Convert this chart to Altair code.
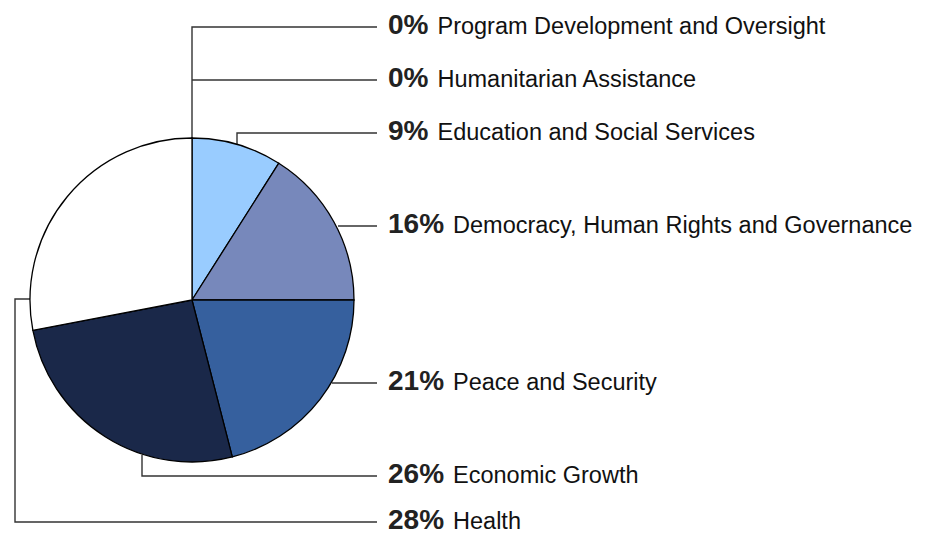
import altair as alt
import pandas as pd

# ---- data ----
categories = [
    "Program Development and Oversight",
    "Humanitarian Assistance",
    "Education and Social Services",
    "Democracy, Human Rights and Governance",
    "Peace and Security",
    "Economic Growth",
    "Health",
]
shares = [0, 0, 9, 16, 21, 26, 28]
colors = ["#ffffff", "#ffffff", "#99ccff", "#7788bb", "#36609e", "#1a2849", "#ffffff"]

# ---- layout (page pixel coordinates) ----
CX, CY, R = 192, 300, 162
LABEL_X = 388
line_end = 377
label_line_y = [27, 80, 133, 226, 383, 476, 522]
# leader polylines: list of (x, y) points per category, ending at the label line
leader_paths = [
    [(192, 139), (192, 27), (line_end, 27)],
    [(192, 80), (line_end, 80)],
    [(237, 145), (237, 133), (line_end, 133)],
    [(338, 226), (line_end, 226)],
    [(332, 383), (line_end, 383)],
    [(142, 455), (142, 476), (line_end, 476)],
    [(31, 299), (15, 299), (15, 522), (line_end, 522)],
]

W, H = 912, 528
xs = alt.Scale(domain=[8, 8 + W], range=[0, W])
ys = alt.Scale(domain=[8, 8 + H], range=[0, H])

pie_df = pd.DataFrame({"cat": categories, "share": shares, "idx": list(range(len(categories))), "col": colors})
pie_df = pie_df[pie_df["share"] > 0]

pie = alt.Chart(pie_df).mark_arc(outerRadius=R, stroke="#000000", strokeWidth=1.3).encode(
    theta=alt.Theta("share:Q", stack=True),
    order=alt.Order("idx:Q"),
    color=alt.Color("col:N", scale=None),
    x=alt.value(CX - 8),
    y=alt.value(CY - 8),
)

rows = []
for i, path in enumerate(leader_paths):
    for j, (px, py) in enumerate(path):
        rows.append({"cat": categories[i], "o": j, "x": px, "y": py})
lines_df = pd.DataFrame(rows)
lines = alt.Chart(lines_df).mark_line(color="#333333", strokeWidth=1.4).encode(
    x=alt.X("x:Q", scale=xs, axis=None),
    y=alt.Y("y:Q", scale=ys, axis=None),
    detail="cat:N",
    order="o:Q",
)

pct_text = [f"{s}%" for s in shares]
pct_w = [(len(str(s)) * 0.556 + 0.889) * 28 for s in shares]
text_df = pd.DataFrame({
    "cat": categories,
    "pct": pct_text,
    "y": [v + 7 for v in label_line_y],
    "px": [LABEL_X] * len(categories),
    "lx": [LABEL_X + w + 9 for w in pct_w],
})

pct = alt.Chart(text_df).mark_text(
    align="left", baseline="alphabetic", font="Liberation Sans", fontSize=28, fontWeight="bold", color="#222222"
).encode(
    x=alt.X("px:Q", scale=xs, axis=None),
    y=alt.Y("y:Q", scale=ys, axis=None),
    text="pct:N",
)
lab = alt.Chart(text_df).mark_text(
    align="left", baseline="alphabetic", font="Liberation Sans", fontSize=23.5, color="#111111"
).encode(
    x=alt.X("lx:Q", scale=xs, axis=None),
    y=alt.Y("y:Q", scale=ys, axis=None),
    text="cat:N",
)

chart = alt.layer(lines, pie, pct, lab).properties(
    width=W, height=H, autosize=alt.AutoSizeParams(type="none"), padding=0,
    background="#ffffff",
).configure_view(stroke=None)

chart.save("out.html", embed_options={"renderer": "svg", "actions": False})
